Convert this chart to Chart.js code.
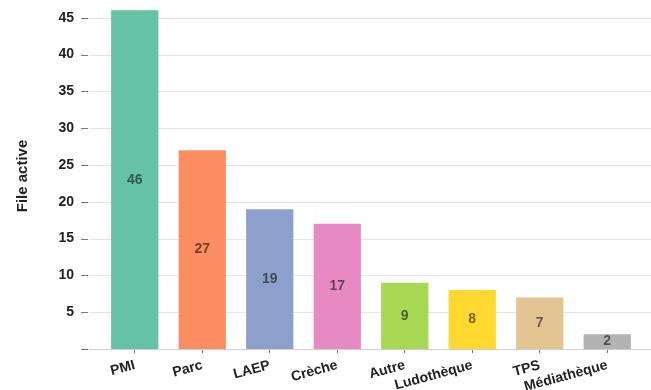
<!DOCTYPE html>
<html>
<head>
<meta charset="utf-8">
<script src="https://cdn.jsdelivr.net/npm/chart.js@4.4.1/dist/chart.umd.min.js"></script>
<style>
  html, body { margin: 0; padding: 0; background: #fff; }
  #wrap { width: 651px; height: 390px; }
</style>
</head>
<body>
<div id="wrap"><canvas id="chart"></canvas></div>
<script>
const categories = ['PMI', 'Parc', 'LAEP', 'Crèche', 'Autre', 'Ludothèque', 'TPS', 'Médiathèque'];
const fileActive = [46, 27, 19, 17, 9, 8, 7, 2];
const barColors = ['#66c2a5', '#fc8d62', '#8da0cb', '#e78ac3', '#a6d854', '#ffd92f', '#e5c494', '#b3b3b3'];
const yTicks = [0, 5, 10, 15, 20, 25, 30, 35, 40, 45];
const yMax = 47;

const FONT = "'Liberation Sans', Arial, sans-serif";

// horizontal grid lines + short tick dashes, wider than the bar area
const gridPlugin = {
    id: 'wideGrid',
    beforeDatasetsDraw(chart) {
        const ctx = chart.ctx;
        const y = chart.scales.y;
        ctx.save();
        yTicks.forEach(v => {
            const py = Math.round(y.getPixelForValue(v)) + 0.5;
            ctx.strokeStyle = v === 0 ? '#cfcfcf' : '#e6e6e6';
            ctx.lineWidth = 1;
            ctx.beginPath();
            ctx.moveTo(89, py);
            ctx.lineTo(chart.width, py);
            ctx.stroke();
            ctx.strokeStyle = '#777';
            ctx.beginPath();
            ctx.moveTo(81, py);
            ctx.lineTo(88, py);
            ctx.stroke();
        });
        ctx.restore();
    }
};

// value written in the middle of each bar
const valuePlugin = {
    id: 'barValues',
    afterDatasetsDraw(chart) {
        const ctx = chart.ctx;
        const meta = chart.getDatasetMeta(0);
        ctx.save();
        ctx.font = 'bold 14px ' + FONT;
        ctx.textAlign = 'center';
        ctx.textBaseline = 'middle';
        ctx.fillStyle = 'rgba(0,0,0,0.55)';
        meta.data.forEach((bar, i) => {
            const p = bar.getProps(['x', 'y', 'base'], true);
            ctx.fillText(String(fileActive[i]), p.x, (p.y + p.base) / 2);
        });
        ctx.restore();
    }
};

new Chart(document.getElementById('chart'), {
    type: 'bar',
    data: {
        labels: categories,
        datasets: [{
            data: fileActive,
            backgroundColor: barColors,
            borderWidth: 0,
            barPercentage: 0.7,
            categoryPercentage: 1.0
        }]
    },
    options: {
        responsive: true,
        maintainAspectRatio: false,
        animation: false,
        layout: { padding: { top: 3, right: 10, left: 0, bottom: 0 } },
        plugins: {
            legend: { display: false },
            tooltip: { enabled: false }
        },
        scales: {
            x: {
                grid: {
                    display: true,
                    offset: false,
                    drawOnChartArea: false,
                    drawTicks: true,
                    tickLength: 4,
                    tickColor: '#777'
                },
                border: { display: false },
                ticks: {
                    autoSkip: false,
                    maxRotation: 15,
                    minRotation: 15,
                    padding: 4,
                    color: '#222',
                    font: { family: FONT, size: 14, weight: 'bold' }
                },
                afterFit(scale) {
                    scale.height = 41;
                    scale.paddingLeft = 0;
                    scale.paddingRight = 0;
                }
            },
            y: {
                min: 0,
                max: yMax,
                grid: { display: false, drawTicks: false },
                border: { display: false },
                afterBuildTicks(scale) {
                    scale.ticks = yTicks.map(v => ({ value: v }));
                },
                ticks: {
                    padding: 27,
                    color: '#222',
                    font: { family: FONT, size: 14, weight: 'bold' },
                    callback: v => (v === 0 ? '' : v)
                },
                title: {
                    display: true,
                    text: 'File active',
                    color: '#222',
                    font: { family: FONT, size: 15, weight: 'bold' },
                    padding: { top: 14, bottom: 0 }
                },
                afterFit(scale) {
                    scale.width = 101;
                    scale.paddingTop = 0;
                    scale.paddingBottom = 0;
                }
            }
        }
    },
    plugins: [gridPlugin, valuePlugin]
});
</script>
</body>
</html>
